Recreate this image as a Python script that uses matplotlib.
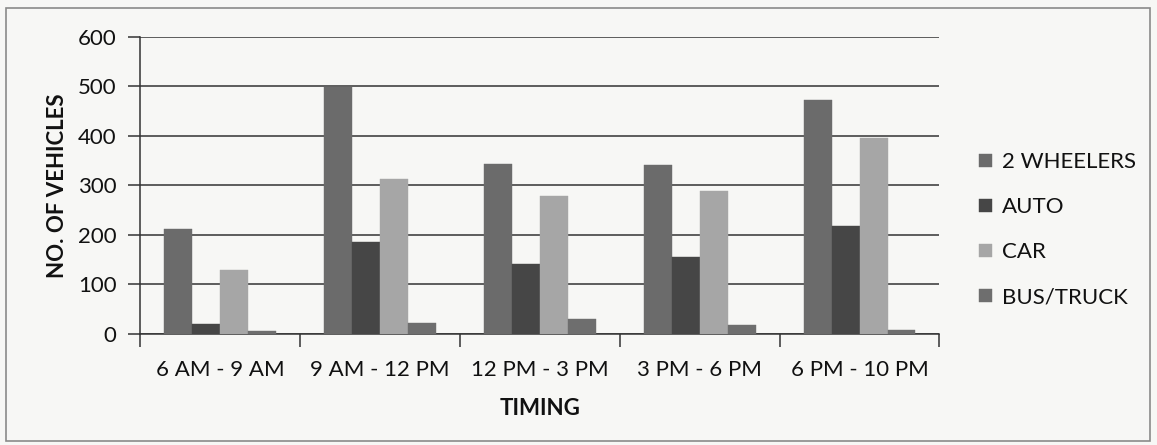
import numpy as np
import matplotlib
matplotlib.use("Agg")
import matplotlib.pyplot as plt
from matplotlib.patches import Rectangle

# time slots on the x axis
timings = ["6 AM - 9 AM", "9 AM - 12 PM", "12 PM - 3 PM", "3 PM - 6 PM", "6 PM - 10 PM"]

# vehicle counts per slot
two_wheelers = [211, 498, 343, 341, 473]
auto = [20, 186, 140, 155, 217]
car = [128, 313, 279, 288, 396]
bus_truck = [5, 22, 30, 18, 7]

series_names = ["2 WHEELERS", "AUTO", "CAR", "BUS/TRUCK"]
y_ticks = [0, 100, 200, 300, 400, 500, 600]

plt.rcParams['font.family'] = ['Lato', 'DejaVu Sans']

bg = "#f7f7f5"
colors = ["#6b6b6b", "#464646", "#a6a6a6", "#6e6e6e"]
fs = 16

fig = plt.figure(figsize=(11.57, 4.45), dpi=100, facecolor=bg)
# outer chart frame
fig.patches.append(Rectangle((0.005, 0.008), 0.989, 0.975, transform=fig.transFigure,
                             fill=False, edgecolor="#8a8a8a", linewidth=1.2))

ax = fig.add_axes([0.121, 0.25, 0.691, 0.667])
ax.set_facecolor(bg)

x = np.arange(len(timings))
w = 0.175
data = [two_wheelers, auto, car, bus_truck]
for i, (vals, name) in enumerate(zip(data, series_names)):
    ax.bar(x + (i - 1.5) * w, vals, width=w, color=colors[i], label=name,
           edgecolor=colors[i], linewidth=0.3, zorder=3)

ax.set_ylim(0, 600)
ax.set_xlim(-0.5, len(timings) - 0.5)
ax.set_yticks(y_ticks)
ax.set_yticklabels([str(v) for v in y_ticks], fontsize=fs, color="#111111")
ax.yaxis.grid(True, color="#333333", linewidth=1.1, zorder=0)
ax.set_axisbelow(True)

# x ticks between categories, labels centred on groups
ax.set_xticks(np.arange(-0.5, len(timings), 1.0))
ax.set_xticklabels([])
ax.set_xticks(x, minor=True)
ax.set_xticklabels(timings, minor=True, fontsize=fs, color="#111111")
ax.tick_params(axis="x", which="minor", length=0, pad=19)
ax.tick_params(axis="x", which="major", length=9, width=1.1, color="#333333", direction="out")
ax.tick_params(axis="y", length=9, width=1.1, color="#333333", pad=8)

for s in ["top", "right"]:
    ax.spines[s].set_visible(False)
ax.spines["left"].set_color("#333333")
ax.spines["bottom"].set_color("#333333")
ax.spines["left"].set_linewidth(1.1)
ax.spines["bottom"].set_linewidth(1.1)

ax.set_xlabel("TIMING", fontsize=fs, fontweight="bold", labelpad=13, color="#111111")
ax.set_ylabel("NO. OF VEHICLES", fontsize=fs, fontweight="bold", labelpad=7, color="#111111")

leg = ax.legend(loc="center left", bbox_to_anchor=(1.0, 0.35), frameon=False,
                fontsize=fs, handlelength=0.55, handleheight=0.55, handletextpad=0.45,
                labelspacing=1.13, borderaxespad=1.4)
for t in leg.get_texts():
    t.set_color("#111111")

fig.savefig("out.png", dpi=100, facecolor=bg)
